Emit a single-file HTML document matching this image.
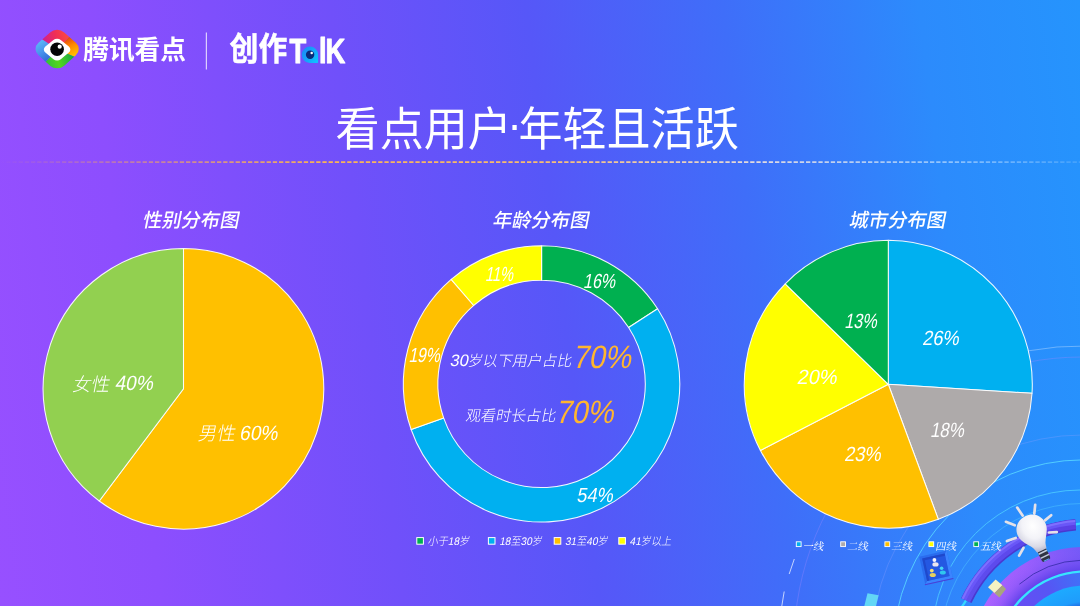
<!DOCTYPE html>
<html lang="zh-CN">
<head>
<meta charset="utf-8">
<title>看点用户·年轻且活跃</title>
<style>
html,body{margin:0;padding:0;width:1080px;height:606px;overflow:hidden;background:#5b55f8}
#stage{position:relative;width:1080px;height:606px;overflow:hidden;
 background:linear-gradient(83deg,#9750ff 0%,#8d4efe 14%,#7050fa 35%,#5657f8 52%,#3f6ef9 69%,#2c8bfc 86%,#2594fd 100%)}
svg{position:absolute;left:0;top:0;width:1080px;height:606px;display:block}
text{font-family:"Liberation Sans","Noto Sans CJK SC",sans-serif;font-weight:400}
.lt{font-weight:300}
.md{font-weight:500}
.bd{font-weight:700}
.bk{font-weight:900}
.ti{font-style:italic}
.sf{font-family:"Liberation Serif","Noto Serif CJK SC",serif;font-weight:400}
</style>
</head>
<body>
<div id="stage">
<svg viewBox="0 0 1080 606" width="1080" height="606">
<defs>
<linearGradient id="dash" gradientUnits="userSpaceOnUse" x1="0" x2="1080" y1="0" y2="0">
<stop offset="0" stop-color="#ffb347" stop-opacity="0"/>
<stop offset=".12" stop-color="#ffb347" stop-opacity=".45"/>
<stop offset=".3" stop-color="#ffb84d" stop-opacity=".95"/>
<stop offset=".5" stop-color="#ffc26a" stop-opacity=".95"/>
<stop offset=".7" stop-color="#f3e6dc" stop-opacity=".9"/>
<stop offset=".88" stop-color="#dff0ff" stop-opacity=".55"/>
<stop offset="1" stop-color="#dff0ff" stop-opacity=".15"/>
</linearGradient>
</defs>
<!-- decoration -->
<defs>
<linearGradient id="tubeG" gradientUnits="userSpaceOnUse" x1="960" y1="600" x2="1078" y2="520">
<stop offset="0" stop-color="#5f4fee"/><stop offset=".5" stop-color="#5c48ec"/><stop offset="1" stop-color="#5a3ee4"/>
</linearGradient>
<linearGradient id="band3G" gradientUnits="userSpaceOnUse" x1="1010" y1="606" x2="1080" y2="572">
<stop offset="0" stop-color="#6a4cf4"/><stop offset=".55" stop-color="#5656f4"/><stop offset="1" stop-color="#3f72f8"/>
</linearGradient>
<linearGradient id="bandG" gradientUnits="userSpaceOnUse" x1="985" y1="606" x2="1080" y2="548">
<stop offset="0" stop-color="#ab62ff"/><stop offset=".5" stop-color="#9b5efd"/><stop offset="1" stop-color="#7459f7"/>
</linearGradient>
<radialGradient id="band2G" gradientUnits="userSpaceOnUse" cx="1084" cy="660" r="112">
<stop offset="0" stop-color="#5a3ee8" stop-opacity=".85"/><stop offset=".8" stop-color="#5a3ee8" stop-opacity=".8"/><stop offset=".9" stop-color="#6a4af0" stop-opacity=".25"/><stop offset="1" stop-color="#8a5cfa" stop-opacity="0"/>
</radialGradient>
<radialGradient id="coreG" gradientUnits="userSpaceOnUse" cx="1086" cy="661" r="75.6">
<stop offset="0" stop-color="#1c48d4"/><stop offset=".7" stop-color="#2258dc"/><stop offset=".79" stop-color="#1f9cfc"/><stop offset="1" stop-color="#1daaff"/>
</radialGradient>
<radialGradient id="bulbG" cx=".58" cy=".32" r=".75">
<stop offset="0" stop-color="#ffffff"/><stop offset=".45" stop-color="#f3f3f8"/><stop offset=".75" stop-color="#dadae6"/><stop offset="1" stop-color="#a9a9c4"/>
</radialGradient>
</defs>
<g fill="none">
<path d="M970.0 367.8A299 299 0 0 1 1087.2 346.0" stroke="#cfe6ff" stroke-opacity=".5" stroke-width=".8"/>
<circle cx="1082" cy="645" r="288" stroke="#9a86ff" stroke-opacity=".45" stroke-width=".8"/>
<circle cx="1082" cy="645" r="210" stroke="#8fa0ff" stroke-opacity=".4" stroke-width=".8"/>
<circle cx="1082.7" cy="649.2" r="189.3" stroke="#57d4ff" stroke-opacity=".9" stroke-width="1"/>
<circle cx="1080.5" cy="638.5" r="148.5" stroke="#4fd0ff" stroke-opacity=".8" stroke-width="1"/>
<circle cx="1082" cy="645" r="141.5" stroke="#4fc8ff" stroke-opacity=".55" stroke-width=".9"/>
<!-- white dashes far left -->
<path d="M794.3 559L789.2 574M784.2 591.5L781.8 606" stroke="#e6eeff" stroke-opacity=".8" stroke-width="1"/>
</g>
<!-- cyan bar -->
<path d="M867.5 593.2L878.6 595.2L875.5 608L863.8 608Z" fill="#62d6f6"/>
<!-- cyan wire of tube -->
<path d="M960.5 608Q962.3 606.9 966.3 599.9" fill="none" stroke="#33d6ff" stroke-width="2.2"/>
<path d="M1073.6 524.7L1082 523.3" fill="none" stroke="#33d6ff" stroke-width="2.4"/>
<!-- purple tube -->
<path d="M966.4 600.5A133.0 133.0 0 0 1 1075.6 524.9" fill="none" stroke="#4a38d0" stroke-width="11.4" />
<path d="M965.7 600.2A133.7 133.7 0 0 1 1075.5 524.2" fill="none" stroke="url(#tubeG)" stroke-width="9.6" />
<path d="M963.9 599.3A135.7 135.7 0 0 1 1075.4 522.3" fill="none" stroke="#6a59f8" stroke-width="5" stroke-opacity=".9"/>
<path d="M962.7 598.7A137.0 137.0 0 0 1 1075.3 521.0" fill="none" stroke="#8576ff" stroke-width="2" stroke-opacity=".8"/>
<!-- big band -->
<circle cx="1082.7" cy="659.3" r="112.3" fill="url(#bandG)"/>
<circle cx="1082.7" cy="659.3" r="111.6" fill="url(#band2G)"/>
<path d="M1019.4 584.2A99.8 99.8 0 0 1 1082 560.2" fill="none" stroke="#2b259e" stroke-opacity=".8" stroke-width=".9"/>
<circle cx="1085.6" cy="660.7" r="88.4" fill="url(#band3G)"/>
<circle cx="1085.6" cy="660.7" r="89.2" fill="none" stroke="#37e4ff" stroke-width="2.3"/>
<circle cx="1086" cy="661" r="75.6" fill="url(#coreG)"/>
<!-- cube -->
<g>
<path d="M988 587.2L995.6 579.4L1002.4 585.2L994.6 593Z" fill="#f6f3c2"/>
<path d="M994.6 593L1002.4 585.2L1006 589L999.4 597.6Z" fill="#a9a67c"/>
<path d="M988 587.2L994.6 593L999.4 597.6L992.6 591.4Z" fill="#d4d09c"/>
</g>
<!-- little framed icon -->
<g transform="translate(936 567.4) rotate(-12.4)">
<rect x="-14.1" y="-14.1" width="28.2" height="28.2" fill="#2a6cee"/>
<path d="M-14.1 14.1L14.1 14.1L14.1 -14.1L11.4 -11.4L11.4 11.4L-11.4 11.4Z" fill="#3b84ff"/>
<path d="M-14.6 14.6L14.6 14.6" stroke="#4a3fd6" stroke-width="1" fill="none"/>
<rect x="-11.6" y="-11.6" width="23" height="23" fill="#2458e2"/>
<path d="M-11.6 11.4L-11.6 -11.6L11.4 -11.6L11.4 -9.4L-9.4 -9.4L-9.4 11.4Z" fill="#1f49cc"/>
</g>
<g transform="translate(936 567.4)">
<ellipse cx="-.5" cy="-3" rx="3.1" ry="2.2" fill="#e9e6f0"/><circle cx="-1.6" cy="-7.4" r="1.9" fill="#f6f4fa"/>
<ellipse cx="-3.2" cy="7.6" rx="3.1" ry="2.1" fill="#e6d060"/><circle cx="-4.2" cy="3.2" r="1.9" fill="#f0dc74"/>
<ellipse cx="6.8" cy="5" rx="3" ry="2" fill="#30c6ee"/><circle cx="5.6" cy=".9" r="1.8" fill="#44d6f6"/>
</g>
<!-- bulb rays -->
<g stroke="#e4e1e8" stroke-width="2.7" stroke-linecap="round" fill="none">
<path d="M1017.2 507.6L1022.6 515.6"/>
<path d="M1035.2 504.8L1034.3 513.6"/>
<path d="M1051.2 515.2L1045 520.4"/>
<path d="M1056.8 532.1L1048.9 532.5"/>
<path d="M1005.9 521.8L1014.8 525.3"/>
<path d="M1006.9 541.1L1015.7 538"/>
<path d="M1019.1 555.6L1023.5 547.8"/>
</g>
<!-- bulb -->
<g transform="translate(1031.8 529.8) rotate(-26)">
<rect x="-4.6" y="21.6" width="9.2" height="12.6" rx="2.2" fill="#2f3444"/>
<path d="M-4.6 25H4.6M-4.6 29.6H4.6" stroke="#c4cede" stroke-width="1.5"/>
<path d="M-3 33.6H3" stroke="#5aa0f0" stroke-width="1.2"/>
<path d="M0 -15.2C8.8 -15.2 15.2 -8.6 15.2 -0.4C15.2 6.8 10 11 6.6 17.6C5.8 19.6 5.6 21.8 5.2 23H-5.2C-5.6 21.8 -5.8 19.6 -6.6 17.6C-10 11 -15.2 6.8 -15.2 -0.4C-15.2 -8.6 -8.8 -15.2 0 -15.2Z" fill="url(#bulbG)"/>
</g>

<!-- dashed rule -->
<line x1="0" y1="162.2" x2="1080" y2="162.2" stroke="url(#dash)" stroke-width="1.7" stroke-dasharray="4.3 1.9"/>
<!-- logo -->
<defs>
<clipPath id="lgClip"><rect x="-18.2" y="-18.2" width="36.4" height="36.4" rx="10" transform="translate(57.15 49.05) scale(1 .888) rotate(45)"/></clipPath>
<linearGradient id="lgR" gradientUnits="userSpaceOnUse" x1="42" y1="44" x2="72" y2="34"><stop offset="0" stop-color="#cc1c96"/><stop offset=".5" stop-color="#f02f56"/><stop offset="1" stop-color="#ff5238"/></linearGradient>
<linearGradient id="lgO" gradientUnits="userSpaceOnUse" x1="66" y1="36" x2="76" y2="58"><stop offset="0" stop-color="#dc3510"/><stop offset=".45" stop-color="#ff8a00"/><stop offset="1" stop-color="#ffd000"/></linearGradient>
<linearGradient id="lgG" gradientUnits="userSpaceOnUse" x1="74" y1="54" x2="44" y2="62"><stop offset="0" stop-color="#12a64a"/><stop offset=".55" stop-color="#55d61c"/><stop offset="1" stop-color="#2cbc44"/></linearGradient>
<linearGradient id="lgB" gradientUnits="userSpaceOnUse" x1="52" y1="62" x2="38" y2="42"><stop offset="0" stop-color="#2a5ecc"/><stop offset=".55" stop-color="#4690ec"/><stop offset="1" stop-color="#5cb8f6"/></linearGradient>
<linearGradient id="eyeG" gradientUnits="userSpaceOnUse" x1="302" y1="50" x2="318" y2="61"><stop offset="0" stop-color="#1b8af8"/><stop offset=".55" stop-color="#14a8fb"/><stop offset="1" stop-color="#0fc4ff"/></linearGradient>
</defs>
<g clip-path="url(#lgClip)">
<path d="M57.1 49.2L30 31.6L30 20L84 20L80.6 25.3Z" fill="url(#lgR)"/>
<path d="M57.1 49.2L80.6 25.3L90 30L90 63.7Z" fill="url(#lgO)"/>
<path d="M57.1 49.2L90 63.7L84 80L30 80L37.6 70.3Z" fill="url(#lgG)"/>
<path d="M57.1 49.2L37.6 70.3L20 70L20 25L30 31.6Z" fill="url(#lgB)"/>
</g>
<rect x="-10.9" y="-10.9" width="21.8" height="21.8" rx="5.2" transform="translate(57.1 49.6) scale(1 .82) rotate(45)" fill="#fff"/>
<circle cx="57.1" cy="49.2" r="6.8" fill="#050505"/>
<circle cx="59.7" cy="46.7" r="2.1" fill="#fff"/>
<text x="83.2" y="59.2" font-size="25.8" class="bd" fill="#fff" textLength="102.8" lengthAdjust="spacingAndGlyphs">腾讯看点</text>
<rect x="205.8" y="32.5" width="1.1" height="37" fill="#fff" fill-opacity=".8"/>
<text x="229.6" y="59.9" font-size="32.2" class="bd" fill="#fff" stroke="#fff" stroke-width=".5" textLength="57.6" lengthAdjust="spacingAndGlyphs">创作</text>
<text transform="translate(288.8 63.3) scale(.8 1)" class="bd" font-size="34.2" fill="#fff" stroke="#fff" stroke-width="1" stroke-linejoin="round"><tspan x="0.9">T</tspan><tspan x="19.6" dy="-1.7" font-size="20" fill="#14a8fb" stroke="none">a</tspan><tspan x="37.6" dy="1.7">l</tspan><tspan x="46">K</tspan></text>
<path d="M309.9 46.6A8.2 8.2 0 1 0 309.9 63L317.4 63Q318.1 63 318.1 62.3L318.1 54.8A8.2 8.2 0 0 0 309.9 46.6Z" fill="url(#eyeG)"/>
<circle cx="310.1" cy="54.8" r="4.2" fill="#0a2a7a"/>
<circle cx="311.7" cy="53.1" r="1.25" fill="#fff"/>

<!-- charts -->
<path d="M183.5 388.8L183.50 248.50A140.3 140.3 0 1 1 99.26 501.00Z" fill="#ffc000" stroke="#fff" stroke-opacity=".92" stroke-width="1.05" stroke-linejoin="round"/>
<path d="M183.5 388.8L99.26 501.00A140.3 140.3 0 0 1 183.50 248.50Z" fill="#92d050" stroke="#fff" stroke-opacity=".92" stroke-width="1.05" stroke-linejoin="round"/>
<path d="M541.60 245.70A138.2 138.2 0 0 1 657.58 308.75L628.63 327.51A103.7 103.7 0 0 0 541.60 280.20Z" fill="#00b050" stroke="#fff" stroke-opacity=".92" stroke-width="1.05" stroke-linejoin="round"/>
<path d="M657.58 308.75A138.2 138.2 0 1 1 411.13 429.49L443.70 418.11A103.7 103.7 0 1 0 628.63 327.51Z" fill="#00b0f0" stroke="#fff" stroke-opacity=".92" stroke-width="1.05" stroke-linejoin="round"/>
<path d="M411.13 429.49A138.2 138.2 0 0 1 451.19 279.38L473.76 305.47A103.7 103.7 0 0 0 443.70 418.11Z" fill="#ffc000" stroke="#fff" stroke-opacity=".92" stroke-width="1.05" stroke-linejoin="round"/>
<path d="M451.19 279.38A138.2 138.2 0 0 1 541.60 245.70L541.60 280.20A103.7 103.7 0 0 0 473.76 305.47Z" fill="#ffff00" stroke="#fff" stroke-opacity=".92" stroke-width="1.05" stroke-linejoin="round"/>
<path d="M888.3 384.3L888.30 240.30A144.0 144.0 0 0 1 1032.02 393.34Z" fill="#00b0f0" stroke="#fff" stroke-opacity=".92" stroke-width="1.05" stroke-linejoin="round"/>
<path d="M888.3 384.3L1032.02 393.34A144.0 144.0 0 0 1 938.35 519.32Z" fill="#aeaaaa" stroke="#fff" stroke-opacity=".92" stroke-width="1.05" stroke-linejoin="round"/>
<path d="M888.3 384.3L938.35 519.32A144.0 144.0 0 0 1 760.41 450.48Z" fill="#ffc000" stroke="#fff" stroke-opacity=".92" stroke-width="1.05" stroke-linejoin="round"/>
<path d="M888.3 384.3L760.41 450.48A144.0 144.0 0 0 1 785.21 283.76Z" fill="#ffff00" stroke="#fff" stroke-opacity=".92" stroke-width="1.05" stroke-linejoin="round"/>
<path d="M888.3 384.3L785.21 283.76A144.0 144.0 0 0 1 888.30 240.30Z" fill="#00b050" stroke="#fff" stroke-opacity=".92" stroke-width="1.05" stroke-linejoin="round"/>
<rect x="416.8" y="537.6" width="6.6" height="6.6" fill="#00b050" stroke="#fff" stroke-width="1"/>
<text transform="translate(427.6 545.2) skewX(-11) scale(0.92 1)" font-size="11" class="lt" fill="#fff" text-anchor="start" >小于18岁</text>
<rect x="488.4" y="537.6" width="6.6" height="6.6" fill="#00b0f0" stroke="#fff" stroke-width="1"/>
<text transform="translate(499.2 545.2) skewX(-11) scale(0.92 1)" font-size="11" class="lt" fill="#fff" text-anchor="start" >18至30岁</text>
<rect x="554.2" y="537.6" width="6.6" height="6.6" fill="#ffc000" stroke="#fff" stroke-width="1"/>
<text transform="translate(565.0 545.2) skewX(-11) scale(0.92 1)" font-size="11" class="lt" fill="#fff" text-anchor="start" >31至40岁</text>
<rect x="618.8" y="537.6" width="6.6" height="6.6" fill="#ffff00" stroke="#fff" stroke-width="1"/>
<text transform="translate(629.5999999999999 545.2) skewX(-11) scale(0.92 1)" font-size="11" class="lt" fill="#fff" text-anchor="start" >41岁以上</text>
<rect x="796.3" y="541.8" width="4.8" height="4.8" fill="#00b0f0" stroke="#fff" stroke-width="0.9"/>
<text transform="translate(802.6999999999999 549.9) skewX(-11) scale(1 1)" font-size="10.4" class="sf" fill="#fff" text-anchor="start" >一线</text>
<rect x="840.7" y="541.8" width="4.8" height="4.8" fill="#aeaaaa" stroke="#fff" stroke-width="0.9"/>
<text transform="translate(847.1 549.9) skewX(-11) scale(1 1)" font-size="10.4" class="sf" fill="#fff" text-anchor="start" >二线</text>
<rect x="884.9" y="541.8" width="4.8" height="4.8" fill="#ffc000" stroke="#fff" stroke-width="0.9"/>
<text transform="translate(891.3 549.9) skewX(-11) scale(1 1)" font-size="10.4" class="sf" fill="#fff" text-anchor="start" >三线</text>
<rect x="928.9" y="541.8" width="4.8" height="4.8" fill="#ffff00" stroke="#fff" stroke-width="0.9"/>
<text transform="translate(935.3 549.9) skewX(-11) scale(1 1)" font-size="10.4" class="sf" fill="#fff" text-anchor="start" >四线</text>
<rect x="973.8" y="541.8" width="4.8" height="4.8" fill="#00b050" stroke="#fff" stroke-width="0.9"/>
<text transform="translate(980.1999999999999 549.9) skewX(-11) scale(1 1)" font-size="10.4" class="sf" fill="#fff" text-anchor="start" >五线</text>
<text transform="translate(335.6 145.2) scale(1 1.045)" x="0" y="0" font-size="44.05" fill="#fff">看点用户<tspan dx="-4.5" dy="-4.6">·</tspan><tspan dx="-3.5" dy="4.6">年轻且活跃</tspan></text>
<text transform="translate(190.2 227) skewX(-11) scale(1 1)" font-size="19.3" class="md" fill="#fff" text-anchor="middle" >性别分布图</text>
<text transform="translate(540.2 227) skewX(-11) scale(1 1)" font-size="19.3" class="md" fill="#fff" text-anchor="middle" >年龄分布图</text>
<text transform="translate(896.8 227) skewX(-11) scale(1 1)" font-size="19.3" class="md" fill="#fff" text-anchor="middle" >城市分布图</text>
<text transform="translate(72.0 390.5) skewX(-11) scale(1 1)" font-size="18.6" class="lt" fill="#fff" text-anchor="start" >女性</text>
<text transform="translate(114.4 390) skewX(-11) scale(0.93 1)" font-size="20.6" class="lt" fill="#fff" text-anchor="start" >40%</text>
<text transform="translate(197.6 440.4) skewX(-11) scale(1 1)" font-size="18.6" class="lt" fill="#fff" text-anchor="start" >男性</text>
<text transform="translate(239.0 439.9) skewX(-11) scale(0.93 1)" font-size="20.6" class="lt" fill="#fff" text-anchor="start" >60%</text>
<text transform="translate(599 287.7) skewX(-11) scale(0.783 1)" font-size="20.4" class="lt" fill="#fff" text-anchor="middle" >16%</text>
<text transform="translate(594.5 501.7) skewX(-11) scale(0.89 1)" font-size="20.4" class="lt" fill="#fff" text-anchor="middle" >54%</text>
<text transform="translate(424 361.7) skewX(-11) scale(0.765 1)" font-size="20.4" class="lt" fill="#fff" text-anchor="middle" >19%</text>
<text transform="translate(499 280.7) skewX(-11) scale(0.712 1)" font-size="20.4" class="lt" fill="#fff" text-anchor="middle" >11%</text>
<text transform="translate(940.3 344.7) skewX(-11) scale(0.892 1)" font-size="20.6" class="lt" fill="#fff" text-anchor="middle" >26%</text>
<text transform="translate(946.8 436.7) skewX(-11) scale(0.819 1)" font-size="20.6" class="lt" fill="#fff" text-anchor="middle" >18%</text>
<text transform="translate(862.3 460.7) skewX(-11) scale(0.892 1)" font-size="20.6" class="lt" fill="#fff" text-anchor="middle" >23%</text>
<text transform="translate(816.5 383.7) skewX(-11) scale(0.966 1)" font-size="20.6" class="lt" fill="#fff" text-anchor="middle" >20%</text>
<text transform="translate(860.5 327.7) skewX(-11) scale(0.787 1)" font-size="20.6" class="lt" fill="#fff" text-anchor="middle" >13%</text>
<text transform="translate(449.6 366.0) skewX(-11) scale(1 1)" font-size="14.9" class="lt" fill="#fff" text-anchor="start" ><tspan font-size="16.6">30</tspan><tspan dx="-.9">岁以下用户占比</tspan></text>
<text transform="translate(572.2 367.6) skewX(-11) scale(1 1)" font-size="32.4" class="lt" fill="#ffb62e" text-anchor="start" textLength="58.6" lengthAdjust="spacingAndGlyphs">70%</text>
<text transform="translate(465 421.0) skewX(-11) scale(1 1)" font-size="15.1" class="lt" fill="#fff" text-anchor="start" >观看时长占比</text>
<text transform="translate(555.2 422.7) skewX(-11) scale(1 1)" font-size="32.4" class="lt" fill="#ffb62e" text-anchor="start" textLength="58.2" lengthAdjust="spacingAndGlyphs">70%</text>
</svg>
</div>
</body>
</html>
